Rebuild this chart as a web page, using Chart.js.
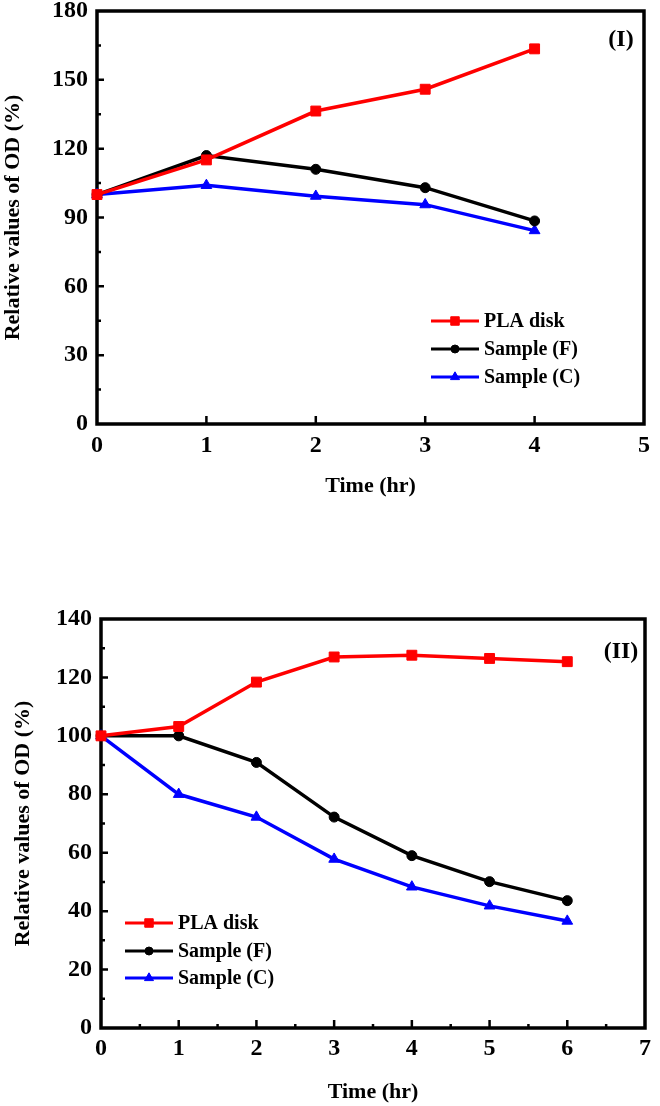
<!DOCTYPE html>
<html>
<head>
<meta charset="utf-8">
<script src="https://cdn.jsdelivr.net/npm/chart.js@4/dist/chart.umd.min.js"></script>
<style>
  body { margin: 0; background: #fff; width: 660px; height: 1106px; position: relative; overflow: hidden; }
  canvas { position: absolute; left: 0; }
</style>
</head>
<body>
<canvas id="chartOne" width="660" height="510" style="top:0px"></canvas>
<canvas id="chartTwo" width="660" height="546" style="top:560px"></canvas>
<script>
// data
var seriesNames = ['PLA disk', 'Sample (F)', 'Sample (C)'];

var hoursI = [0, 1, 2, 3, 4];
var plaI = [100, 115.1, 136.4, 145.9, 163.5];
var sampleFI = [100, 117, 111, 103, 88.5];
var sampleCI = [100, 104, 99.3, 95.6, 84.3];

var hoursII = [0, 1, 2, 3, 4, 5, 6];
var plaII = [100, 103.2, 118.4, 127, 127.6, 126.5, 125.4];
var sampleFII = [100, 100, 90.9, 72.2, 59, 50.1, 43.6];
var sampleCII = [100, 80, 72.2, 57.8, 48.3, 41.8, 36.6];

var serif = '"Liberation Serif", "Times New Roman", serif';
var colors = ['rgb(255,0,0)', '#000000', 'rgb(0,0,255)'];
var shapes = ['rect', 'circle', 'triangle'];
var radii = [7, 5, 6.2];

function toPoints(xs, ys) {
    var out = [];
    for (var i = 0; i < xs.length; i++) out.push({ x: xs[i], y: ys[i] });
    return out;
}

function makeSets(xs, list) {
    return list.map(function (ys, i) {
        return {
            label: seriesNames[i],
            data: toPoints(xs, ys),
            borderColor: colors[i],
            backgroundColor: colors[i],
            borderWidth: 3.5,
            pointStyle: shapes[i],
            pointRadius: radii[i],
            pointBorderWidth: 1,
            pointBorderColor: colors[i],
            pointBackgroundColor: colors[i],
            tension: 0,
            clip: false
        };
    });
}

// frame + inward ticks
var frameTicks = {
    id: 'frameTicks',
    beforeDatasetsDraw: function (chart, args, o) {
        var ctx = chart.ctx, a = chart.chartArea;
        var xs = chart.scales.x, ys = chart.scales.y;
        ctx.save();
        ctx.strokeStyle = '#000';
        ctx.lineWidth = 3.5;
        ctx.strokeRect(a.left, a.top, a.right - a.left, a.bottom - a.top);
        ctx.lineWidth = 2.5;
        ctx.beginPath();
        var n, v, p, len;
        n = Math.round((ys.max - ys.min) / o.yMinor);
        for (var i = 1; i < n; i++) {
            v = ys.min + i * o.yMinor;
            p = ys.getPixelForValue(v);
            len = (i % o.yRatio === 0) ? 7 : 4;
            ctx.moveTo(a.left, p);
            ctx.lineTo(a.left + len, p);
        }
        n = Math.round((xs.max - xs.min) / o.xMinor);
        for (var j = 1; j < n; j++) {
            v = xs.min + j * o.xMinor;
            p = xs.getPixelForValue(v);
            len = (j % o.xRatio === 0) ? 8 : 4;
            ctx.moveTo(p, a.bottom);
            ctx.lineTo(p, a.bottom - len);
        }
        ctx.stroke();
        ctx.restore();
    },
    afterDraw: function (chart, args, o) {
        var ctx = chart.ctx;
        ctx.save();
        // panel label
        ctx.fillStyle = '#000';
        ctx.font = 'bold 24px ' + serif;
        ctx.textAlign = 'center';
        ctx.textBaseline = 'middle';
        ctx.fillText(o.panel, o.panelX, o.panelY);
        // legend
        ctx.font = 'bold 20px ' + serif;
        ctx.textAlign = 'left';
        chart.data.datasets.forEach(function (ds, i) {
            var y = o.legendY[i];
            ctx.strokeStyle = ds.borderColor;
            ctx.lineWidth = 3;
            ctx.beginPath();
            ctx.moveTo(o.legendX, y);
            ctx.lineTo(o.legendX + 48, y);
            ctx.stroke();
            ctx.fillStyle = ds.borderColor;
            ctx.strokeStyle = ds.borderColor;
            ctx.lineWidth = 1;
            Chart.helpers.drawPoint(ctx, { pointStyle: ds.pointStyle, radius: ds.pointRadius - 1, borderWidth: 1, rotation: 0 }, o.legendX + 24, y);
            ctx.fillStyle = '#000';
            ctx.fillText(ds.label, o.legendX + 53, y + 1);
        });
        ctx.restore();
    }
};

function buildChart(id, xs, list, cfg) {
    return new Chart(document.getElementById(id), {
        type: 'line',
        data: { datasets: makeSets(xs, list) },
        plugins: [frameTicks],
        options: {
            responsive: false,
            animation: false,
            layout: { padding: { top: cfg.padTop, right: cfg.padRight, left: 0, bottom: 0 } },
            plugins: {
                legend: { display: false },
                tooltip: { enabled: false },
                frameTicks: cfg.deco
            },
            scales: {
                x: {
                    type: 'linear',
                    min: 0,
                    max: cfg.xMax,
                    grid: { display: false, drawTicks: false },
                    border: { display: false },
                    ticks: { stepSize: 1, color: '#000', padding: cfg.xPad, font: { family: serif, size: 24, weight: 'bold', lineHeight: 1 } },
                    title: { display: true, text: 'Time (hr)', color: '#000', font: { family: serif, size: 22, weight: 'bold' }, padding: { top: 0, bottom: cfg.xTitlePad } },
                    afterFit: function (s) { s.height = cfg.xHeight; }
                },
                y: {
                    min: 0,
                    max: cfg.yMax,
                    grid: { display: false, drawTicks: false },
                    border: { display: false },
                    // tiny lineHeight keeps the top label from pushing the plot down
                    ticks: { stepSize: cfg.yStep, color: '#000', padding: 9, font: { family: serif, size: 24, weight: 'bold', lineHeight: 0.1 } },
                    title: { display: true, text: 'Relative values of OD (%)', color: '#000', font: { family: serif, size: 22, weight: 'bold' }, padding: { top: cfg.yTitlePad, bottom: 0 } },
                    afterFit: function (s) { s.width = cfg.yWidth; }
                }
            }
        }
    });
}

buildChart('chartOne', hoursI, [plaI, sampleFI, sampleCI], {
    padTop: 11, padRight: 8, xMax: 5, yMax: 180, yStep: 30,
    xPad: 10, xTitlePad: 10, xHeight: 86, yWidth: 97, yTitlePad: 0,
    deco: { yMinor: 15, yRatio: 2, xMinor: 1, xRatio: 1,
        panel: '(I)', panelX: 621, panelY: 40,
        legendX: 431, legendY: [321, 349, 377] }
});

buildChart('chartTwo', hoursII, [plaII, sampleFII, sampleCII], {
    padTop: 59, padRight: 12, xMax: 7, yMax: 140, yStep: 20,
    xPad: 9, xTitlePad: 0, xHeight: 78, yWidth: 101, yTitlePad: 10,
    deco: { yMinor: 10, yRatio: 2, xMinor: 0.5, xRatio: 2,
        panel: '(II)', panelX: 621, panelY: 92,
        legendX: 125, legendY: [363, 391, 418] }
});
</script>
</body>
</html>
